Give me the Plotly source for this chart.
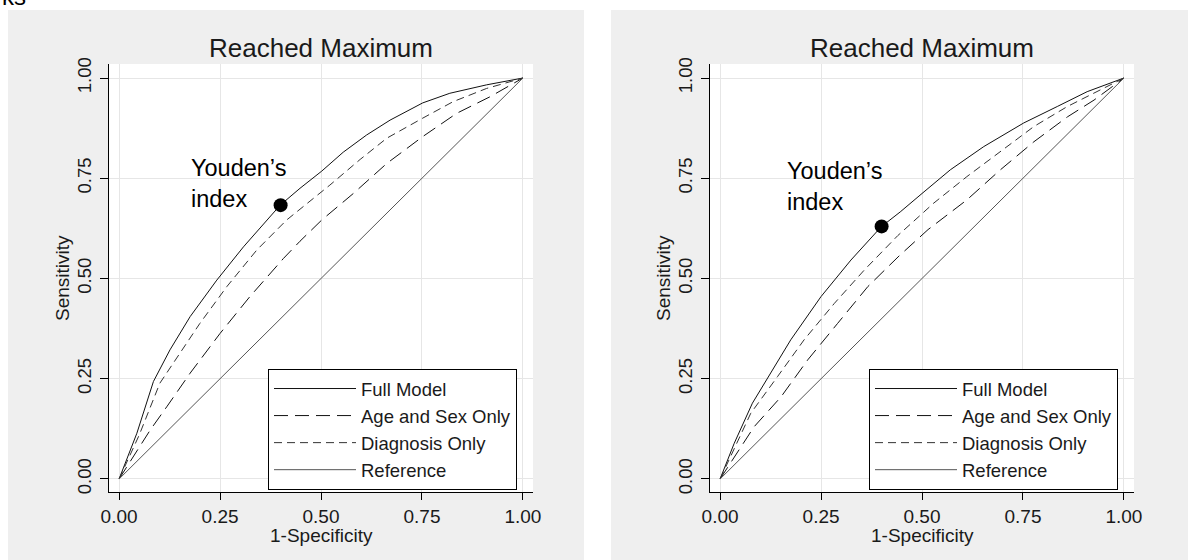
import plotly.graph_objects as go

W, H = 1188, 560

# ---------------- data ----------------
tick_vals = [0, 0.25, 0.5, 0.75, 1.0]
tick_text = ["0.00", "0.25", "0.50", "0.75", "1.00"]

# Left panel
L_full_x = [0, 0.044, 0.085, 0.126, 0.176, 0.242, 0.308, 0.399, 0.448, 0.502, 0.555, 0.613, 0.671, 0.752, 0.819, 0.91, 1]
L_full_y = [0, 0.114, 0.243, 0.322, 0.405, 0.496, 0.579, 0.683, 0.725, 0.768, 0.815, 0.858, 0.895, 0.938, 0.962, 0.983, 1]
L_age_x = [0, 0.077, 0.118, 0.176, 0.25, 0.324, 0.407, 0.448, 0.502, 0.58, 0.663, 0.752, 0.836, 0.918, 1]
L_age_y = [0, 0.122, 0.18, 0.264, 0.363, 0.455, 0.55, 0.593, 0.646, 0.712, 0.787, 0.854, 0.912, 0.953, 1]
L_diag_x = [0, 0.05, 0.101, 0.151, 0.2, 0.267, 0.341, 0.415, 0.477, 0.522, 0.597, 0.663, 0.752, 0.827, 0.91, 1]
L_diag_y = [0, 0.11, 0.239, 0.313, 0.388, 0.48, 0.571, 0.646, 0.696, 0.733, 0.797, 0.85, 0.9, 0.941, 0.974, 1]
L_youden = (0.40, 0.683)

# Right panel
R_full_x = [0, 0.035, 0.08, 0.126, 0.175, 0.25, 0.324, 0.399, 0.446, 0.5, 0.57, 0.653, 0.752, 0.835, 0.909, 1]
R_full_y = [0, 0.089, 0.189, 0.264, 0.347, 0.455, 0.546, 0.629, 0.666, 0.712, 0.771, 0.829, 0.888, 0.929, 0.966, 1]
R_age_x = [0, 0.084, 0.151, 0.217, 0.291, 0.366, 0.443, 0.515, 0.611, 0.694, 0.777, 0.86, 0.926, 1]
R_age_y = [0, 0.13, 0.205, 0.297, 0.388, 0.48, 0.556, 0.622, 0.696, 0.771, 0.841, 0.903, 0.945, 1]
R_diag_x = [0, 0.076, 0.142, 0.208, 0.283, 0.357, 0.44, 0.529, 0.611, 0.694, 0.777, 0.86, 0.926, 1]
R_diag_y = [0, 0.164, 0.255, 0.347, 0.438, 0.521, 0.607, 0.688, 0.754, 0.817, 0.879, 0.929, 0.963, 1]
R_youden = (0.40, 0.63)

ref_xy = [0, 1]

series_names = ["Full Model", "Age and Sex Only", "Diagnosis Only", "Reference"]
panel_title = "Reached Maximum"
x_title = "1-Specificity"
y_title = "Sensitivity"
annot_text = "Youden’s<br>index"
corner_text = "ks"

# ---------------- style ----------------
FONT = "Arial, Liberation Sans, sans-serif"
TXT = "#1a1a1a"
styles = {
    "Full Model": dict(color="#111111", width=1, dash="solid"),
    "Age and Sex Only": dict(color="#111111", width=1, dash="14px,7px"),
    "Diagnosis Only": dict(color="#333333", width=1, dash="8px,5px"),
    "Reference": dict(color="#555555", width=1, dash="solid"),
}

fig = go.Figure()

panels = [
    dict(xa="x", ya="y", leg="legend", data=[(L_full_x, L_full_y), (L_age_x, L_age_y), (L_diag_x, L_diag_y), (ref_xy, ref_xy)], dot=L_youden),
    dict(xa="x2", ya="y2", leg="legend2", data=[(R_full_x, R_full_y), (R_age_x, R_age_y), (R_diag_x, R_diag_y), (ref_xy, ref_xy)], dot=R_youden),
]

for p in panels:
    for name, (xs, ys) in zip(series_names, p["data"]):
        fig.add_trace(go.Scatter(x=xs, y=ys, mode="lines", name=name, line=styles[name],
                                 xaxis=p["xa"], yaxis=p["ya"], legend=p["leg"], legendgroup=p["leg"] + name,
                                 hoverinfo="skip"))
    fig.add_trace(go.Scatter(x=[p["dot"][0]], y=[p["dot"][1]], mode="markers",
                             marker=dict(color="black", size=14), showlegend=False,
                             xaxis=p["xa"], yaxis=p["ya"], hoverinfo="skip"))

# pixel geometry
PL, PR, PT, PB = 109, 533, 64, 492
OFF = 601

def px(x):
    return x / W

def py(y):
    return 1 - y / H

axis_common = dict(
    range=[-0.025, 1.025], tickvals=tick_vals, ticktext=tick_text, showgrid=True, gridcolor="#e6e6e6",
    gridwidth=1, zeroline=False, showline=True, linecolor="black", linewidth=1, ticks="outside",
    tickcolor="black", ticklen=7, tickwidth=1, tickfont=dict(family=FONT, size=19, color=TXT),
    fixedrange=True, automargin=False,
)
yaxis_common = dict(axis_common)
yaxis_common.update(range=[-0.0325, 1.035], tickangle=-90, ticklen=8, ticklabelstandoff=2,
                    tickfont=dict(family=FONT, size=18.5, color=TXT))

layout = dict(
    width=W, height=H, autosize=False, margin=dict(l=0, r=0, t=0, b=0),
    paper_bgcolor="white", plot_bgcolor="rgba(0,0,0,0)",
    font=dict(family=FONT, color=TXT),
    xaxis=dict(axis_common, domain=[px(PL), px(PR)], anchor="y"),
    yaxis=dict(yaxis_common, domain=[py(PB), py(PT)], anchor="x"),
    xaxis2=dict(axis_common, domain=[px(PL + OFF), px(PR + OFF)], anchor="y2"),
    yaxis2=dict(yaxis_common, domain=[py(PB), py(PT)], anchor="x2"),
)

for key, off in [("legend", 0), ("legend2", OFF)]:
    layout[key] = dict(x=px(268 + off), y=py(369), xanchor="left", yanchor="top",
                       bgcolor="white", bordercolor="black", borderwidth=1,
                       font=dict(family=FONT, size=18.5, color=TXT), itemwidth=82,
                       tracegroupgap=0, itemclick=False, itemdoubleclick=False)

fig.update_layout(**layout)

shapes = []
for x0, x1 in [(8, 584), (611, 1188)]:
    shapes.append(dict(type="rect", xref="paper", yref="paper", x0=px(x0), x1=px(x1), y0=py(H), y1=py(10),
                       fillcolor="#efefef", line=dict(width=0), layer="below"))
for off in [0, OFF]:
    shapes.append(dict(type="rect", xref="paper", yref="paper", x0=px(PL + off), x1=px(PR + off), y0=py(PB), y1=py(PT),
                       fillcolor="white", line=dict(width=0), layer="below"))
fig.update_layout(shapes=shapes)

annots = []
for off in [0, OFF]:
    cx = (PL + PR) / 2 + off
    annots.append(dict(text=panel_title, x=px(cx), y=py(48), xref="paper", yref="paper", showarrow=False,
                       xanchor="center", yanchor="middle", font=dict(family=FONT, size=26, color=TXT)))
    annots.append(dict(text=x_title, x=px(cx), y=py(535), xref="paper", yref="paper", showarrow=False,
                       xanchor="center", yanchor="middle", font=dict(family=FONT, size=19, color=TXT)))
    annots.append(dict(text=y_title, x=px(62 + off), y=py((PT + PB) / 2), xref="paper", yref="paper", showarrow=False,
                       xanchor="center", yanchor="middle", textangle=-90, font=dict(family=FONT, size=19, color=TXT)))
annots.append(dict(text=annot_text, x=0.174, y=0.812, xref="x", yref="y", showarrow=False, align="left",
                   xanchor="left", yanchor="top", font=dict(family=FONT, size=23.5, color="black")))
annots.append(dict(text=annot_text, x=0.161, y=0.805, xref="x2", yref="y2", showarrow=False, align="left",
                   xanchor="left", yanchor="top", font=dict(family=FONT, size=23.5, color="black")))
annots.append(dict(text=corner_text, x=0, y=py(12), xref="paper", yref="paper", showarrow=False,
                   xanchor="left", yanchor="bottom", font=dict(family=FONT, size=24, color="black")))
fig.update_layout(annotations=annots)

fig.write_html("out.html", config={"displayModeBar": False},
               post_script="document.body.style.margin='0px';document.body.style.overflow='hidden';")
